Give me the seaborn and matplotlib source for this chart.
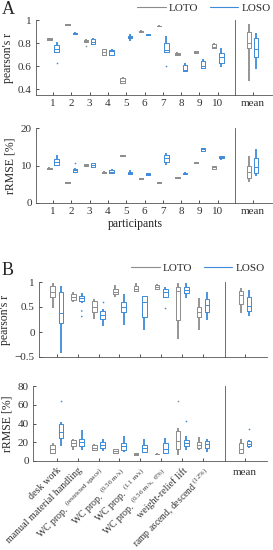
import numpy as np
import pandas as pd
import seaborn as sns
from matplotlib import pyplot as plt
from matplotlib.lines import Line2D

sns.set_style("ticks")
plt.rcParams["font.family"] = ["Liberation Serif", "DejaVu Serif"]
plt.rcParams["mathtext.fontset"] = "custom"
plt.rcParams["mathtext.rm"] = "Liberation Serif"

methods = ["LOTO", "LOSO"]
colors = {"LOTO": "#8c8c8c", "LOSO": "#3d8bd9"}

# ---- panel A: per participant ----
participants = [str(i) for i in range(1, 11)]
# each box: whisker low, q1, median, q3, whisker high
r_loto = [[0.825, 0.83, 0.835, 0.84, 0.845], [0.955, 0.958, 0.962, 0.965, 0.968],
          [0.80, 0.805, 0.815, 0.83, 0.835], [0.69, 0.70, 0.725, 0.745, 0.75],
          [0.45, 0.455, 0.47, 0.50, 0.505], [0.895, 0.898, 0.902, 0.906, 0.91],
          [0.94, 0.944, 0.948, 0.952, 0.955], [0.695, 0.70, 0.708, 0.715, 0.72],
          [0.71, 0.715, 0.722, 0.73, 0.735], [0.75, 0.755, 0.77, 0.79, 0.80]]
r_loso = [[0.71, 0.725, 0.75, 0.785, 0.81], [0.878, 0.882, 0.887, 0.891, 0.895],
          [0.79, 0.795, 0.81, 0.835, 0.846], [0.69, 0.70, 0.73, 0.74, 0.745],
          [0.82, 0.845, 0.855, 0.865, 0.875], [0.865, 0.868, 0.873, 0.878, 0.882],
          [0.715, 0.725, 0.74, 0.80, 0.864], [0.55, 0.555, 0.57, 0.61, 0.625],
          [0.575, 0.58, 0.60, 0.645, 0.66], [0.594, 0.623, 0.68, 0.71, 0.754]]
r_mean = {"LOTO": [0.47, 0.754, 0.80, 0.90, 0.963], "LOSO": [0.574, 0.68, 0.75, 0.846, 0.884]}
r_out = [("1", "LOSO", 0.63), ("3", "LOTO", 0.775), ("7", "LOSO", 0.60)]

e_loto = [[8.9, 9.0, 9.2, 9.35, 9.5], [5.3, 5.4, 5.5, 5.6, 5.7], [9.6, 9.8, 10.1, 10.3, 10.4],
          [7.9, 8.0, 8.2, 8.35, 8.5], [12.3, 12.45, 12.6, 12.75, 12.9], [6.3, 6.45, 6.6, 6.7, 6.8],
          [5.3, 5.4, 5.5, 5.6, 5.7], [6.5, 6.6, 6.75, 6.85, 6.95], [10.5, 10.6, 10.75, 10.9, 11.0],
          [9.0, 9.2, 9.5, 9.8, 9.9]]
e_loso = [[9.9, 10.1, 11.0, 11.7, 12.8], [8.3, 8.4, 8.8, 9.2, 9.3], [9.4, 9.5, 10.1, 10.7, 10.8],
          [7.8, 7.9, 8.3, 8.8, 9.2], [7.6, 7.7, 7.9, 8.2, 8.8], [7.4, 7.5, 7.7, 8.0, 8.1],
          [10.1, 11.0, 11.9, 12.8, 13.4], [7.6, 7.7, 7.9, 8.1, 8.2], [13.9, 14.0, 14.3, 14.6, 14.7],
          [11.5, 12.0, 12.3, 12.5, 12.6]]
e_mean = {"LOTO": [5.5, 6.6, 8.4, 10.0, 12.6], "LOSO": [7.3, 7.9, 9.7, 11.9, 14.4]}
e_out = [("2", "LOSO", 10.7)]

# ---- panel B: per activity ----
activities = ["desk work", "manual material handling",
              r"WC prop. $^{\mathrm{(restricted\ space)}}$", r"WC prop. $^{\mathrm{(0.56\ m/s)}}$",
              r"WC prop. $^{\mathrm{(1.1\ m/s)}}$", r"WC prop. $^{\mathrm{(0.56\ m/s,\ 6\%)}}$",
              "weight-relief lift", r"ramp ascend, descend $^{\mathrm{(12\%)}}$"]
br_loto = [[0.48, 0.70, 0.80, 0.92, 0.98], [0.60, 0.64, 0.70, 0.76, 0.81],
           [0.27, 0.40, 0.50, 0.63, 0.67], [0.70, 0.76, 0.81, 0.86, 0.95],
           [0.80, 0.82, 0.87, 0.92, 0.99], [0.85, 0.87, 0.90, 0.94, 0.97],
           [-0.13, 0.25, 0.82, 0.90, 0.98], [0.05, 0.30, 0.40, 0.50, 0.68]]
br_loso = [[-0.41, 0.18, 0.38, 0.80, 0.92], [0.58, 0.63, 0.68, 0.72, 0.79],
           [0.12, 0.27, 0.34, 0.42, 0.47], [0.14, 0.40, 0.50, 0.60, 0.77],
           [0.05, 0.30, 0.60, 0.72, 0.73], [0.68, 0.70, 0.81, 0.87, 0.90],
           [0.68, 0.78, 0.85, 0.90, 0.99], [0.25, 0.40, 0.55, 0.66, 0.80]]
br_mean = {"LOTO": [0.38, 0.57, 0.74, 0.82, 0.89], "LOSO": [0.33, 0.43, 0.53, 0.70, 0.85]}
br_out = [(1, "LOSO", 0.42), (1, "LOSO", 0.31), (2, "LOSO", 0.61), (5, "LOSO", 0.48)]

be_loto = [[7.5, 9.0, 13.0, 17.0, 19.0], [12, 15.5, 19, 22.4, 24], [11, 12, 14, 17, 18],
           [8, 8.5, 10.5, 12.5, 13], [6.0, 6.5, 7.4, 8.5, 9.0], [7.0, 7.3, 7.7, 8.0, 8.3],
           [6, 13, 21, 32, 35], [12, 13.7, 17, 20, 26]]
be_loso = [[16, 25, 31, 40, 42], [12, 15.5, 20, 24, 33], [11, 13.7, 17, 20.7, 23],
           [9.5, 12, 15.5, 19, 27], [8.4, 10, 13.7, 17, 24], [7.4, 8.4, 13, 19, 25],
           [12, 15.5, 19, 22.4, 27], [10, 13.7, 18, 21.4, 24]]
be_mean = {"LOTO": [7.4, 8.4, 13, 19, 24], "LOSO": [14, 15.5, 18.5, 21.4, 22]}
be_out = [(0, "LOSO", 64.5), (6, "LOTO", 64.5), (6, "LOSO", 42.4), ("mean", "LOSO", 34)]

W, H = 273, 550
fig = plt.figure(figsize=(W / 100, H / 100), dpi=100)


def px_axes(left, top, right, bottom):
    return fig.add_axes([left / W, 1 - bottom / H, (right - left) / W, (bottom - top) / H])


def long_frame(cats, loto, loso):
    rows = []
    for c, a, b in zip(cats, loto, loso):
        rows += [(c, "LOTO", v) for v in a] + [(c, "LOSO", v) for v in b]
    return pd.DataFrame(rows, columns=["cat", "method", "value"])


def draw(ax, df, order, out, gap):
    sns.boxplot(data=df, x="cat", y="value", hue="method", order=order, hue_order=methods,
                palette=colors, fill=False, whis=(0, 100), width=0.8, gap=gap,
                linewidth=0.7, showcaps=False, whiskerprops={"linewidth": 1.3},
                legend=False, ax=ax)
    if out:
        o = pd.DataFrame(out, columns=["cat", "method", "value"])
        sns.stripplot(data=o, x="cat", y="value", hue="method", order=order,
                      hue_order=methods, palette=colors, dodge=True, jitter=False,
                      size=1.2, legend=False, ax=ax)
    sns.despine(ax=ax)
    ax.tick_params(direction="in", length=2.5, width=0.6, labelsize=8, pad=3, colors="#333333")
    for s in ax.spines.values():
        s.set_linewidth(0.6)
        s.set_color("#555555")
    ax.set_xlabel("")
    ax.set_ylabel("")


def panel(top, bottom, left, mid, mean_right, cats, loto, loso, mean, out,
          ylim, yticks, ylabel, center, step, gap):
    ax = px_axes(left, top, mid, bottom)
    out_main = [(cats[c] if isinstance(c, int) else c, m, v) for c, m, v in out if c != "mean"]
    draw(ax, long_frame(cats, loto, loso), cats, out_main, gap)
    ax.set_xlim((left - center) / step, (mid - center) / step)
    ax.set_ylim(*ylim)
    ax.set_yticks(yticks)
    ax.set_ylabel(ylabel, fontsize=8.5, labelpad=3)

    axm = px_axes(mid, top, mean_right, bottom)
    out_mean = [("mean", m, v) for c, m, v in out if c == "mean"]
    draw(axm, long_frame(["mean"], [mean["LOTO"]], [mean["LOSO"]]), ["mean"], out_mean, gap)
    mc = mid + 0.5 * (mean_right - mid) - 1
    axm.set_xlim((mid - mc) / step, (mean_right - mc) / step)
    axm.set_ylim(*ylim)
    axm.tick_params(axis="y", left=False, labelleft=False)
    return ax, axm


# A: pearson's r
ax1, ax1m = panel(20, 95, 36, 235, 272, participants, r_loto, r_loso, r_mean, r_out,
                  (0.35, 1.0), [0.4, 0.6, 0.8, 1], "pearson's r", 53, 18.3, 0.4)
ax1.set_yticklabels(["0.4", "0.6", "0.8", "1"])
# A: rRMSE
ax2, ax2m = panel(128, 203, 36, 235, 272, participants, e_loto, e_loso, e_mean, e_out,
                  (0, 20), [0, 10, 20], "rRMSE [%]", 53, 18.3, 0.4)
ax2.set_xlabel("participants", fontsize=8.5, labelpad=1)

# B: pearson's r
ax3, ax3m = panel(282, 357, 39, 225, 267, activities, br_loto, br_loso, br_mean, br_out,
                  (-0.5, 1.0), [-0.5, 0, 0.5, 1], "pearson's r", 56.7, 20.9, 0.45)
ax3.set_yticklabels(["\u22120.5", "0", "0.5", "1"])
ax3.set_xticklabels([])
ax3m.set_xticklabels([])
# B: rRMSE
ax4, ax4m = panel(386, 461, 33, 225, 267, activities, be_loto, be_loso, be_mean, be_out,
                  (0, 80), [0, 20, 40, 60, 80], "rRMSE [%]", 56.7, 20.9, 0.45)
ax4.set_xticks(range(len(activities)))
ax4.set_xticklabels(activities, rotation=45, ha="right", va="top",
                    rotation_mode="anchor", fontsize=7.2)
ax4.get_xticklabels()[-1].set_fontsize(6.9)
ax4.tick_params(axis="x", pad=3.5)
ax4m.tick_params(axis="x", pad=5)

fig.text(2 / W, 1 - 10 / H, "A", fontsize=13, va="center")
fig.text(2 / W, 1 - 270 / H, "B", fontsize=13, va="center")

handles = [Line2D([], [], color=colors[m], lw=0.8) for m in methods]
for y, x in [(8, 271), (268, 265)]:
    fig.legend(handles, methods, loc="center right", bbox_to_anchor=(x / W, 1 - y / H),
               ncol=2, frameon=False, fontsize=8, handlelength=2.6, handletextpad=0.3,
               columnspacing=1.0, borderaxespad=0, borderpad=0)

fig.savefig("out.png", dpi=100)
